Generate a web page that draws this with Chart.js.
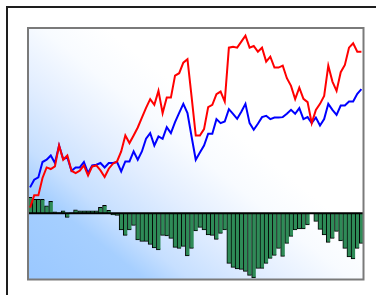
<!DOCTYPE html>
<html><head><meta charset="utf-8">
<script src="https://cdn.jsdelivr.net/npm/chart.js@4"></script>
<style>html,body{margin:0;padding:0;background:#fff;overflow:hidden}canvas{display:block}</style>
</head><body>
<canvas id="c" width="376" height="295"></canvas>
<script>
const categories = [1,2,3,4,5,6,7,8,9,10,11,12,13,14,15,16,17,18,19,20,21,22,23,24,25,26,27,28,29,30,31,32,33,34,35,36,37,38,39,40,41,42,43,44,45,46,47,48,49,50,51,52,53,54,55,56,57,58,59,60,61,62,63,64,65,66,67,68,69,70,71,72,73,74,75,76,77,78,79,80,81];

const redSeries = [72,84.3,84.3,101.7,112.3,110.7,113.3,134.3,120,124.3,
109,106.7,109,114.3,104.3,113.3,114.3,109.3,102.7,111,
116,118.3,128.3,144.3,136.7,144.3,152.3,162.3,172,180.7,
175,189,166.7,182.3,182.3,204.3,206.7,217.3,220.7,183,
144.3,144.3,150.7,172.7,175,185.7,188.3,178.3,232.3,233.3,
232.3,238.3,244.3,232.3,234,228.3,232.3,218.3,223.3,212.3,
212.3,214.3,201.7,194,180.7,192.3,181,177.7,156.7,170,
176,184,214.3,198.3,189,207.7,215,232.3,236.7,228.3,
228.3];

const blueSeries = [92.3,100,102.3,117.7,120,124.3,116.7,134.3,120.7,122.3,
109,112.3,112.3,117.7,106.7,114.3,115,116.7,112.3,116.7,
116.7,117.7,108.3,118.3,118.3,128.3,120,128.3,141,146.7,
134.3,143.3,141,152.7,146.7,157.7,167,176,166.7,143,
120,127.3,134.3,146,146,160.7,156.7,158.3,170.7,166,
161,168,176,156.7,150,156,162.7,164,160.7,162.3,
162.3,162.7,166,170,166,171.7,160.7,162.7,156.7,162.3,
154.3,160.7,176,170,165,174.3,174.3,178.3,178.3,186,
190.7];

const diffBars = [16,14,14,14,7.5,12,1.5,0.5,2.5,-4,
0.5,3.5,2.5,2.5,2.5,2.5,2.5,6,8,3,
-1.5,-2,-16.5,-22,-16.5,-12,-26.5,-28,-28,-31,
-34.5,-36.5,-22,-22.5,-25,-34,-35,-33,-42.5,-35,
-17.5,-14,-16.5,-21.5,-22,-26,-20,-16.5,-50,-54,
-55.5,-56,-58,-62,-64.5,-55,-55,-50,-45,-42,
-35,-43,-30,-23,-16.5,-15.5,-15.5,-11.5,0,-8,
-16,-21.5,-29,-25,-18,-27.5,-35,-43.5,-45.5,-35,
-30];

const decor = {
  id: 'decor',
  beforeDraw(chart) {
    const ctx = chart.ctx, a = chart.chartArea;
    ctx.save();
    ctx.fillStyle = '#ffffff';
    ctx.fillRect(0, 0, chart.width, chart.height);
    ctx.strokeStyle = '#1e1e1e';
    ctx.lineWidth = 2;
    ctx.strokeRect(7, 7, 420, 420);
    const g = ctx.createLinearGradient(a.left, a.bottom, a.left + 256, a.bottom - 317);
    g.addColorStop(0, '#9ac8ff');
    g.addColorStop(0.18, '#a6cfff');
    g.addColorStop(0.25, '#c6dfff');
    g.addColorStop(0.38, '#e3eeff');
    g.addColorStop(0.5, '#f8fbff');
    g.addColorStop(0.6, '#ffffff');
    g.addColorStop(1, '#ffffff');
    ctx.fillStyle = g;
    ctx.fillRect(a.left, a.top, a.right - a.left, a.bottom - a.top);
    ctx.restore();
  },
  afterDatasetDraw(chart, args) {
    if (args.index !== 0) return;
    const ctx = chart.ctx, a = chart.chartArea;
    const y0 = chart.scales.yb.getPixelForValue(0);
    ctx.save();
    ctx.strokeStyle = '#000000';
    ctx.lineWidth = 2;
    ctx.beginPath();
    ctx.moveTo(a.left, y0);
    ctx.lineTo(a.right, y0);
    ctx.stroke();
    ctx.restore();
  },
  afterDraw(chart) {
    const ctx = chart.ctx, a = chart.chartArea;
    ctx.save();
    ctx.strokeStyle = '#7a7a7a';
    ctx.lineWidth = 2;
    ctx.strokeRect(a.left, a.top, a.right - a.left, a.bottom - a.top);
    ctx.restore();
  }
};

new Chart(document.getElementById('c'), {
  type: 'bar',
  data: {
    labels: categories,
    datasets: [
      {
        type: 'bar', data: diffBars, xAxisID: 'x', yAxisID: 'yb', order: 2,
        backgroundColor: '#2e8b57', borderColor: '#000000',
        borderWidth: {left: 1, right: 0, top: 1, bottom: 1},
        barPercentage: 1, categoryPercentage: 1
      },
      {
        type: 'line', data: blueSeries, xAxisID: 'x', yAxisID: 'y', order: 1,
        borderColor: '#0000ff', borderWidth: 2, pointRadius: 0, tension: 0, fill: false
      },
      {
        type: 'line', data: redSeries, xAxisID: 'x', yAxisID: 'y', order: 0,
        borderColor: '#ff0000', borderWidth: 2, pointRadius: 0, tension: 0, fill: false
      }
    ]
  },
  options: {
    responsive: false,
    animation: false,
    devicePixelRatio: 1,
    layout: { padding: { left: 28, top: 28, right: 12.5, bottom: 15.5 } },
    plugins: { legend: { display: false }, tooltip: { enabled: false } },
    scales: {
      x: { type: 'category', display: false, offset: true },
      y: { display: false, min: 0, max: 252 },
      yb: { display: false, min: -66.2, max: 185.3 }
    }
  },
  plugins: [decor]
});
</script>
</body></html>
